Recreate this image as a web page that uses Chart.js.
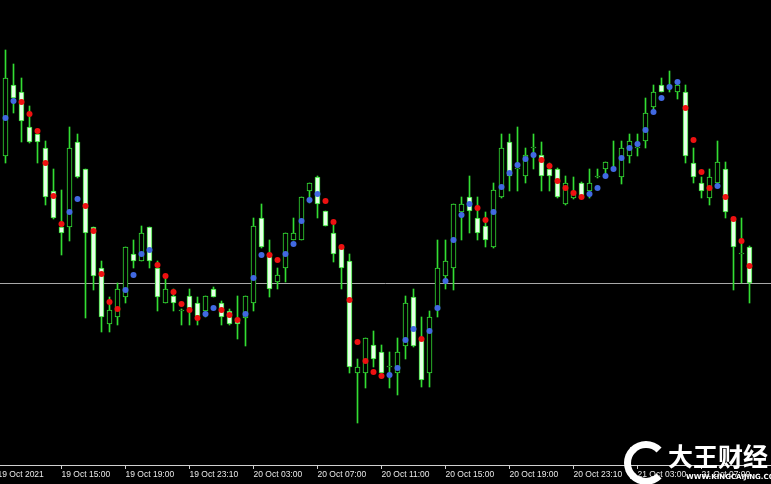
<!DOCTYPE html>
<html><head><meta charset="utf-8">
<script src="https://cdn.jsdelivr.net/npm/chart.js@4.4.1/dist/chart.umd.min.js"></script>
<style>
html,body{margin:0;padding:0;background:#000;overflow:hidden}
#wrap{position:relative;width:771px;height:484px;background:#000}
canvas{display:block}
.logo{position:absolute;left:624px;top:441px;width:30px;height:30px;border:7px solid #fff;border-right-color:transparent;border-radius:50%}
.wm1{position:absolute;left:668px;top:440px;color:#fff;font:bold 25px "Noto Sans CJK SC";line-height:30px;letter-spacing:0px}
.wm2{position:absolute;left:686px;top:473px;color:#fff;font:bold 7px "DejaVu Sans";line-height:9px}
</style></head><body>
<div id="wrap"><canvas id="c" width="771" height="484"></canvas>
<div class="logo"></div><div class="wm1">大王财经</div><div class="wm2">WWW.KINGCAIJING.COM</div></div>
<script>
const times = [
'19 Oct 11:30','19 Oct 12:00','19 Oct 12:30','19 Oct 13:00','19 Oct 13:30','19 Oct 14:00','19 Oct 14:30','19 Oct 15:00','19 Oct 15:30','19 Oct 16:00',
'19 Oct 16:30','19 Oct 17:00','19 Oct 17:30','19 Oct 18:00','19 Oct 18:30','19 Oct 19:00','19 Oct 19:30','19 Oct 20:00','19 Oct 20:30','19 Oct 21:00',
'19 Oct 21:30','19 Oct 22:00','19 Oct 22:30','19 Oct 23:10','19 Oct 23:30','20 Oct 00:00','20 Oct 00:30','20 Oct 01:00','20 Oct 01:30','20 Oct 02:00',
'20 Oct 02:30','20 Oct 03:00','20 Oct 03:30','20 Oct 04:00','20 Oct 04:30','20 Oct 05:00','20 Oct 05:30','20 Oct 06:00','20 Oct 06:30','20 Oct 07:00',
'20 Oct 07:30','20 Oct 08:00','20 Oct 08:30','20 Oct 09:00','20 Oct 09:30','20 Oct 10:00','20 Oct 10:30','20 Oct 11:00','20 Oct 11:30','20 Oct 12:00',
'20 Oct 12:30','20 Oct 13:00','20 Oct 13:30','20 Oct 14:00','20 Oct 14:30','20 Oct 15:00','20 Oct 15:30','20 Oct 16:00','20 Oct 16:30','20 Oct 17:00',
'20 Oct 17:30','20 Oct 18:00','20 Oct 18:30','20 Oct 19:00','20 Oct 19:30','20 Oct 20:00','20 Oct 20:30','20 Oct 21:00','20 Oct 21:30','20 Oct 22:00',
'20 Oct 22:30','20 Oct 23:10','20 Oct 23:30','21 Oct 00:00','21 Oct 00:30','21 Oct 01:00','21 Oct 01:30','21 Oct 02:00','21 Oct 02:30','21 Oct 03:00',
'21 Oct 03:30','21 Oct 04:00','21 Oct 04:30','21 Oct 05:00','21 Oct 05:30','21 Oct 06:00','21 Oct 06:30','21 Oct 07:00','21 Oct 07:30','21 Oct 08:00',
'21 Oct 08:30','21 Oct 09:00','21 Oct 09:30','21 Oct 10:00'];

const open = [
1.16654,1.16796,1.16782,1.16712,1.16698,1.16670,1.16584,1.16512,1.16512,1.16682,
1.16628,1.16512,1.16430,1.16318,1.16332,1.16372,1.16458,1.16444,1.16512,1.16430,
1.16360,1.16374,1.16344,1.16374,1.16360,1.16344,1.16388,1.16360,1.16344,1.16330,
1.16330,1.16360,1.16530,1.16458,1.16402,1.16430,1.16486,1.16486,1.16584,1.16612,
1.16544,1.16500,1.16472,1.16444,1.16220,1.16220,1.16276,1.16262,1.16232,1.16220,
1.16274,1.16372,1.16290,1.16220,1.16346,1.16414,1.16430,1.16542,1.16572,1.16530,
1.16514,1.16472,1.16572,1.16682,1.16628,1.16614,1.16670,1.16656,1.16628,1.16628,
1.16558,1.16570,1.16600,1.16584,1.16612,1.16628,1.16630,1.16612,1.16654,1.16670,
1.16684,1.16752,1.16796,1.16794,1.16782,1.16782,1.16640,1.16600,1.16570,1.16600,
1.16628,1.16528,1.16458,1.16472];
const high = [
1.16866,1.16838,1.16810,1.16754,1.16706,1.16684,1.16628,1.16586,1.16712,1.16698,
1.16628,1.16512,1.16444,1.16372,1.16400,1.16472,1.16486,1.16514,1.16512,1.16444,
1.16416,1.16388,1.16348,1.16388,1.16372,1.16374,1.16392,1.16364,1.16348,1.16374,
1.16374,1.16530,1.16558,1.16486,1.16430,1.16500,1.16530,1.16572,1.16600,1.16614,
1.16544,1.16516,1.16472,1.16458,1.16248,1.16290,1.16304,1.16276,1.16262,1.16290,
1.16374,1.16388,1.16332,1.16344,1.16486,1.16486,1.16558,1.16572,1.16614,1.16572,
1.16542,1.16600,1.16698,1.16698,1.16712,1.16670,1.16698,1.16682,1.16640,1.16630,
1.16614,1.16612,1.16602,1.16628,1.16628,1.16642,1.16684,1.16684,1.16698,1.16698,
1.16770,1.16796,1.16810,1.16824,1.16802,1.16796,1.16670,1.16612,1.16628,1.16684,
1.16642,1.16530,1.16530,1.16474];
const low = [
1.16640,1.16740,1.16682,1.16680,1.16640,1.16556,1.16528,1.16456,1.16484,1.16610,
1.16330,1.16386,1.16302,1.16302,1.16316,1.16360,1.16430,1.16444,1.16430,1.16344,
1.16360,1.16344,1.16316,1.16316,1.16316,1.16332,1.16372,1.16316,1.16316,1.16288,
1.16274,1.16344,1.16470,1.16372,1.16388,1.16402,1.16486,1.16486,1.16560,1.16530,
1.16514,1.16442,1.16388,1.16220,1.16120,1.16190,1.16232,1.16218,1.16190,1.16176,
1.16248,1.16272,1.16192,1.16192,1.16332,1.16388,1.16386,1.16486,1.16500,1.16486,
1.16472,1.16470,1.16570,1.16584,1.16584,1.16600,1.16628,1.16584,1.16584,1.16570,
1.16556,1.16568,1.16570,1.16570,1.16610,1.16616,1.16626,1.16598,1.16640,1.16654,
1.16670,1.16740,1.16782,1.16782,1.16768,1.16640,1.16600,1.16570,1.16556,1.16598,
1.16530,1.16386,1.16400,1.16360];
const close = [
1.16810,1.16770,1.16724,1.16682,1.16682,1.16572,1.16530,1.16500,1.16670,1.16612,
1.16500,1.16414,1.16332,1.16346,1.16388,1.16472,1.16444,1.16500,1.16444,1.16372,
1.16388,1.16360,1.16344,1.16350,1.16334,1.16374,1.16372,1.16332,1.16318,1.16318,
1.16374,1.16514,1.16472,1.16388,1.16416,1.16500,1.16500,1.16572,1.16600,1.16558,
1.16514,1.16458,1.16430,1.16232,1.16232,1.16290,1.16248,1.16220,1.16232,1.16262,
1.16360,1.16274,1.16206,1.16332,1.16430,1.16444,1.16558,1.16558,1.16544,1.16500,
1.16486,1.16586,1.16670,1.16614,1.16628,1.16656,1.16670,1.16614,1.16614,1.16572,
1.16600,1.16584,1.16570,1.16600,1.16612,1.16642,1.16630,1.16670,1.16684,1.16670,
1.16740,1.16782,1.16782,1.16794,1.16796,1.16654,1.16612,1.16584,1.16612,1.16642,
1.16542,1.16472,1.16458,1.16400];
// indicator dots: value and direction (1 = up / blue, -1 = down / red)
const signal = [
1.16730,1.16764,1.16762,1.16738,1.16704,1.16640,1.16574,1.16518,1.16542,1.16568,
1.16554,1.16504,1.16418,1.16362,1.16348,1.16386,1.16416,1.16458,1.16466,1.16436,
1.16414,1.16382,1.16358,1.16346,1.16330,1.16338,1.16350,1.16346,1.16336,1.16326,
1.16338,1.16410,1.16456,1.16456,1.16446,1.16458,1.16478,1.16524,1.16566,1.16578,
1.16564,1.16522,1.16472,1.16366,1.16282,1.16244,1.16222,1.16214,1.16216,1.16230,
1.16286,1.16308,1.16288,1.16304,1.16350,1.16404,1.16486,1.16536,1.16558,1.16550,
1.16526,1.16542,1.16592,1.16620,1.16636,1.16648,1.16656,1.16646,1.16634,1.16604,
1.16590,1.16580,1.16572,1.16578,1.16590,1.16614,1.16628,1.16650,1.16670,1.16678,
1.16706,1.16742,1.16770,1.16792,1.16802,1.16750,1.16686,1.16622,1.16590,1.16594,
1.16572,1.16528,1.16484,1.16434];
const trend = [
1,1,-1,-1,-1,-1,-1,-1,1,1,
-1,-1,-1,-1,-1,1,1,1,1,-1,
-1,-1,-1,-1,-1,1,1,-1,-1,-1,
1,1,1,-1,-1,1,1,1,1,1,
-1,-1,-1,-1,-1,-1,-1,-1,1,1,
1,1,-1,1,1,1,1,1,1,-1,
-1,1,1,1,1,1,1,-1,-1,-1,
-1,-1,-1,1,1,1,1,1,1,1,
1,1,1,1,1,-1,-1,-1,-1,1,
-1,-1,-1,-1];
const tickIndex = [-1,7,15,23,31,39,47,55,63,71,79,87];
const tickText = ['19 Oct 2021','19 Oct 15:00','19 Oct 19:00','19 Oct 23:10','20 Oct 03:00','20 Oct 07:00','20 Oct 11:00','20 Oct 15:00','20 Oct 19:00','20 Oct 23:10','21 Oct 03:00','21 Oct 07:00'];
const levelLine = 1.16400;
const priceMin = 1.16036, priceMax = 1.16966;

const GREEN = '#33dd33', BEAR_FILL = '#e6ffe6', BULL_FILL = '#000000';
const BLUE = '#4169e1', RED = '#ee1111';
const DOJI = 0.00002;

const idx = open.map((_, i) => i);
const wickData = idx.map(i => ({x: i, y: [low[i], high[i]]}));
const bodyData = idx.map(i => {
  const a = Math.min(open[i], close[i]), b = Math.max(open[i], close[i]);
  return {x: i, y: a === b ? [a, a + DOJI] : [a, b]};
});
const bodyFill = idx.map(i => close[i] >= open[i] ? BULL_FILL : BEAR_FILL);
const dotData = idx.map(i => ({x: i, y: signal[i]}));
const dotColor = trend.map(t => t > 0 ? BLUE : RED);

new Chart(document.getElementById('c'), {
  type: 'bar',
  data: {
    datasets: [
      {type: 'bar', data: wickData, backgroundColor: GREEN, borderWidth: 0, barThickness: 1, grouped: false, order: 3},
      {type: 'bar', data: bodyData, backgroundColor: bodyFill, borderColor: GREEN, borderWidth: 1, borderSkipped: false, barThickness: 5, grouped: false, order: 2},
      {type: 'line', data: dotData, showLine: false, pointRadius: 3, pointHoverRadius: 3, pointBorderWidth: 0, pointBackgroundColor: dotColor, order: 1}
    ]
  },
  options: {
    responsive: false, animation: false, devicePixelRatio: 1,
    layout: {padding: 0, autoPadding: false},
    plugins: {legend: {display: false}, tooltip: {enabled: false}},
    scales: {
      x: {
        type: 'linear', min: -0.6875, max: 95.6875, offset: false,
        grid: {display: true, drawOnChartArea: false, drawTicks: true, tickLength: 4, color: '#d0d0d0', offset: false},
        border: {display: true, color: '#d0d0d0', width: 1},
        ticks: {autoSkip: false, maxRotation: 0, minRotation: 0, align: 'start', padding: 1, color: '#e8e8e8',
          font: {family: 'Liberation Sans', size: 8.5},
          callback: v => { const j = tickIndex.indexOf(v); return j < 0 ? '' : tickText[j]; }},
        afterBuildTicks: s => { s.ticks = tickIndex.map(v => ({value: v})); },
        afterFit: s => { s.height = 19; s.paddingLeft = 0; s.paddingRight = 0; }
      },
      y: {
        type: 'linear', min: priceMin, max: priceMax, position: 'right',
        grid: {color: '#a8a8a8', drawTicks: false, lineWidth: 1},
        border: {display: false},
        ticks: {display: false},
        afterBuildTicks: s => { s.ticks = [{value: levelLine}]; },
        afterFit: s => { s.width = 0; s.paddingTop = 0; s.paddingBottom = 0; }
      }
    }
  }
});
</script>
</body></html>
